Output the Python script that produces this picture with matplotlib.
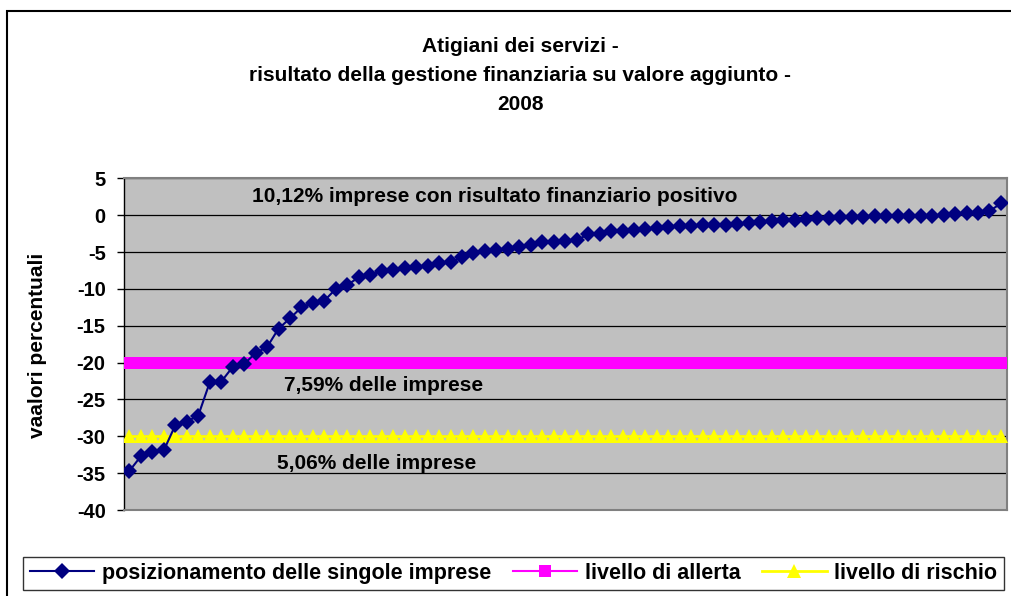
import matplotlib
matplotlib.use("Agg")
import matplotlib.pyplot as plt
from matplotlib.patches import Rectangle

# titolo e testi
title_lines = ["Atigiani dei servizi -",
               "risultato della gestione finanziaria su valore aggiunto -",
               "2008"]
y_label = "vaalori percentuali"
note_positivo = "10,12% imprese con risultato finanziario positivo"
note_allerta = "7,59% delle imprese"
note_rischio = "5,06% delle imprese"
legend_labels = ["posizionamento delle singole imprese",
                 "livello di allerta",
                 "livello di rischio"]

# valori (imprese ordinate)
posizionamento = [
    -34.7, -32.7, -32.1, -31.9, -28.5, -28.0, -27.2, -22.7, -22.6, -20.6,
    -20.2, -18.7, -17.9, -15.4, -14.0, -12.5, -11.9, -11.6, -10.0, -9.5,
    -8.4, -8.1, -7.6, -7.5, -7.2, -7.1, -6.9, -6.5, -6.4, -5.7,
    -5.1, -4.8, -4.7, -4.6, -4.3, -4.1, -3.7, -3.6, -3.5, -3.4,
    -2.6, -2.5, -2.2, -2.1, -2.0, -1.9, -1.7, -1.6, -1.5, -1.45,
    -1.4, -1.35, -1.3, -1.2, -1.0, -0.95, -0.8, -0.7, -0.6, -0.5,
    -0.4, -0.35, -0.25, -0.22, -0.2, -0.15, -0.13, -0.12, -0.1, -0.08,
    -0.05, 0.08, 0.18, 0.3, 0.32, 0.55, 1.6,
]
livello_allerta = -20
livello_rischio = -30
y_ticks = [-40, -35, -30, -25, -20, -15, -10, -5, 0, 5]

imprese = list(range(1, len(posizionamento) + 1))
allerta = [livello_allerta for _ in imprese]
rischio = [livello_rischio for _ in imprese]

plt.rcParams["font.family"] = ["Liberation Sans", "DejaVu Sans"]
plt.rcParams["font.weight"] = "bold"
plt.rcParams["axes.unicode_minus"] = False

W, H = 1012, 596
fig = plt.figure(figsize=(W / 100, H / 100), dpi=100)

# cornice esterna (tagliata a destra e in basso)
fig.patches.append(Rectangle((7 / W, -0.05), 1.1, 1 - 11 / H + 0.05,
                             transform=fig.transFigure, fill=False,
                             edgecolor="black", linewidth=1.5))

ax = fig.add_axes([123.7 / W, 86 / H, 883 / W, 331.7 / H])
ax.set_facecolor("#C0C0C0")

line_allerta, = ax.plot(imprese, allerta, color="#FF00FF", linewidth=1.5,
                        marker="s", markersize=8.2, markeredgewidth=0,
                        zorder=3)
line_rischio, = ax.plot(imprese, rischio, color="#FFFF00", linewidth=2,
                        marker="^", markersize=10, markeredgewidth=0,
                        zorder=3)
line_pos, = ax.plot(imprese, posizionamento, color="#000080", linewidth=1.5,
                    marker="D", markersize=8, markeredgewidth=0, zorder=4)

ax.set_xlim(0.5, len(imprese) + 0.5)
ax.set_ylim(-40, 5)
ax.set_xticks([])
ax.set_yticks(y_ticks)
ax.tick_params(axis="y", length=5, width=1, pad=8, labelsize=14.5)
for lbl in ax.get_yticklabels():
    lbl.set_fontweight("bold")
ax.grid(axis="y", color="black", linewidth=0.9, zorder=1)
ax.set_axisbelow(True)
for side in ["top", "right", "bottom"]:
    ax.spines[side].set_color("#808080")
    ax.spines[side].set_linewidth(1.5)
ax.spines["left"].set_color("black")
ax.spines["left"].set_linewidth(1)

# testi dentro il grafico
ax.text(0.4205, 0.945, note_positivo, transform=ax.transAxes,
        ha="center", va="center", fontsize=15, fontweight="bold", zorder=5)
ax.text(0.294, 0.374, note_allerta, transform=ax.transAxes,
        ha="center", va="center", fontsize=15, fontweight="bold", zorder=5)
ax.text(0.2865, 0.139, note_rischio, transform=ax.transAxes,
        ha="center", va="center", fontsize=15, fontweight="bold", zorder=5)

# titolo
for i, line in enumerate(title_lines):
    fig.text(520 / W, 1 - (46 + i * 29.5) / H, line, ha="center",
             va="center", fontsize=15, fontweight="bold")

fig.text(38 / W, 1 - 345 / H, y_label, rotation=90, ha="center",
         va="center", fontsize=15, fontweight="bold")

leg = fig.legend([line_pos, line_allerta, line_rischio], legend_labels,
                 ncol=3, loc="center",
                 bbox_to_anchor=(513.5 / W, 1 - 573.5 / H),
                 fontsize=15.5, frameon=True, fancybox=False, shadow=False,
                 edgecolor="black", handlelength=3.0, handletextpad=0.35,
                 columnspacing=1.0, borderpad=0.3, numpoints=1)
leg.get_frame().set_linewidth(1)
for t in leg.get_texts():
    t.set_fontweight("bold")

fig.savefig("out.png", dpi=100)
